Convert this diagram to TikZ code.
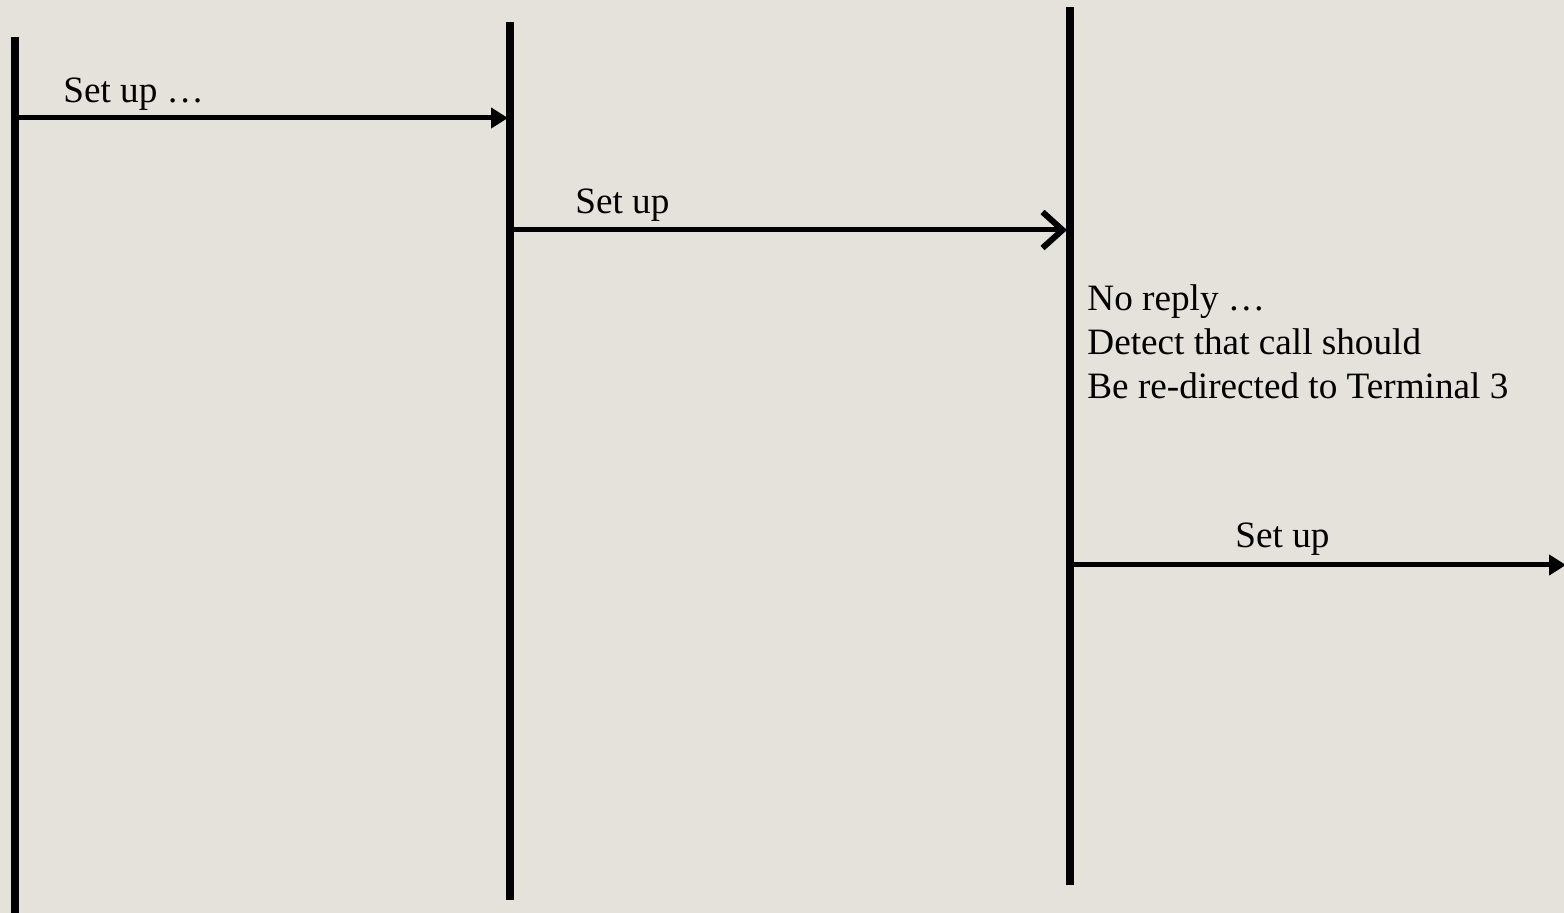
\documentclass[tikz,border=0pt]{standalone}
\usepackage{fontspec}
\setmainfont{Liberation Serif}
\usetikzlibrary{arrows.meta}
\definecolor{bgcol}{RGB}{229,226,219}

\begin{document}
\begin{tikzpicture}[x=0.5pt,y=-0.5pt,
  lifeline/.style={line width=4pt},
  msg/.style={line width=2.5pt},
  lbl/.style={inner sep=0pt, align=left, font=\fontsize{18.6}{22}\selectfont}]
  \fill[bgcol] (0,0) rectangle (1564,913);
  \useasboundingbox (0,0) rectangle (1564,913);

  % lifelines
  \foreach \n/\x/\t/\b in {a/15/37/913, b/510/22/900, c/1070/7/885} {
      \coordinate (\n top) at (\x,\t);
      \coordinate (\n bot) at (\x,\b);
      \draw[lifeline] (\n top) -- (\n bot);
  }

  % messages
  \coordinate (a1) at (15,118);
  \coordinate (b1) at (508,118);
  \coordinate (b2) at (510,230);
  \coordinate (c2) at (1067,230);
  \coordinate (c3) at (1070,565);
  \coordinate (d3) at (1566,565);

  \draw[msg, -{Triangle[length=8.5pt,width=10pt]}] (a1) -- (b1);
  \draw[msg, -{Straight Barb[length=10pt,width=18pt,line width=3pt]}] (b2) -- (c2);
  \draw[msg, -{Triangle[length=8.5pt,width=10pt]}] (c3) -- (d3);

  \node[lbl, anchor=base west] (setup1) at (63,103) {Set up …};
  \node[lbl, anchor=base west] (setup2) at (575,214) {Set up};
  \node[lbl, anchor=north west] (noreply) at (1087,284)
    {No reply …\\Detect that call should\\Be re-directed to Terminal 3};
  \node[lbl, anchor=base west] (setup3) at (1235,548) {Set up};
\end{tikzpicture}
\end{document}
